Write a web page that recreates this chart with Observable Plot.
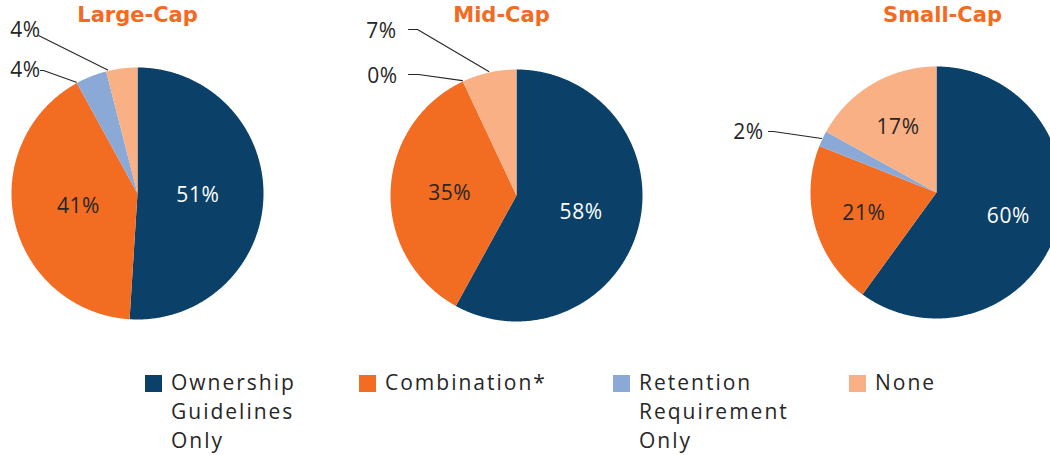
<!DOCTYPE html>
<html><head><meta charset="utf-8">
<script src="https://cdn.jsdelivr.net/npm/d3@7"></script>
<script src="https://cdn.jsdelivr.net/npm/@observablehq/plot@0.6"></script>
<style>
html,body{margin:0;padding:0;background:#fff;overflow:hidden;width:1050px;height:455px;}
#chart svg{display:block;}
.legend{position:relative;height:87px;font-family:"Open Sans",Lato,sans-serif;font-size:21px;line-height:29px;color:#262626;letter-spacing:2px;}
.legend .item{position:absolute;top:0;}
.legend .sw{position:absolute;left:0;top:7px;width:17px;height:17px;}
.legend .tx{position:absolute;left:26px;top:0;white-space:nowrap;}
</style></head><body>
<div id="chart"></div>
<script>
// ---- data ----
const groups = ["Large-Cap", "Mid-Cap", "Small-Cap"];
const categories = ["Ownership Guidelines Only", "Combination*", "Retention Requirement Only", "None"];
const legendLines = [["Ownership", "Guidelines", "Only"], ["Combination*"], ["Retention", "Requirement", "Only"], ["None"]];
const largeCap = [51, 41, 4, 4];
const midCap = [58, 35, 0, 7];
const smallCap = [60, 21, 2, 17];
const series = [largeCap, midCap, smallCap];

// ---- layout / style ----
const W = 1050, H = 368, R = 126;
const colors = ["#0b4168", "#f26c22", "#8aa9d7", "#f9b084"];
const centers = [[137, 193], [516, 195], [936, 192]];
const titlePos = [[137, 15], [501, 15], [942, 15]];
const inLabelRadius = [0.48, 0.53, 0.6];
const legendLeft = [145, 359, 613, 849];
// outside labels: group, category, text pos, leader start, elbow length, anchor fraction within slice
const outside = [
  {g: 0, c: 3, tx: 25, ty: 30, lx: 38, ly: 35, elbow: 0, t: 0.06},
  {g: 0, c: 2, tx: 25, ty: 70, lx: 40, ly: 70, elbow: 3, t: 0.0},
  {g: 1, c: 3, tx: 381, ty: 31, lx: 408, ly: 29, elbow: 9, t: 0.5},
  {g: 1, c: 2, tx: 382, ty: 76, lx: 408, ly: 74, elbow: 10, t: 0.5},
  {g: 2, c: 2, tx: 748, ty: 132, lx: 768, ly: 131, elbow: 5, t: 0.5}
];

const slices = [], inLabels = [], outLabels = [], leaders = [];
series.forEach((vals, gi) => {
  const arcs = d3.pie().sort(null).value(d => d)(vals);
  const [cx, cy] = centers[gi];
  arcs.forEach((a, ci) => {
    const span = a.endAngle - a.startAngle;
    const o = outside.find(d => d.g === gi && d.c === ci);
    if (o) {
      const ang = a.startAngle + span * o.t;
      const id = "L" + gi + "-" + ci;
      outLabels.push({x: o.tx, y: o.ty, text: vals[ci] + "%"});
      leaders.push({id, x: o.lx, y: o.ly});
      if (o.elbow) leaders.push({id, x: o.lx + o.elbow, y: o.ly});
      leaders.push({id, x: cx + (R + 1) * Math.sin(ang), y: cy - (R + 1) * Math.cos(ang)});
    } else if (span > 0) {
      const mid = (a.startAngle + a.endAngle) / 2, r = R * inLabelRadius[gi];
      inLabels.push({x: cx + r * Math.sin(mid), y: cy - r * Math.cos(mid), text: vals[ci] + "%", fill: ci === 0 ? "#ffffff" : "#262626"});
    }
    if (span <= 0) return;
    const id = gi + "-" + ci;
    slices.push({id, x: cx, y: cy, color: colors[ci]});
    const n = Math.max(2, Math.ceil(span / (Math.PI / 360)));
    for (let k = 0; k <= n; k++) {
      const ang = a.startAngle + span * k / n;
      slices.push({id, x: cx + R * Math.sin(ang), y: cy - R * Math.cos(ang), color: colors[ci]});
    }
  });
});
const titles = groups.map((g, i) => ({x: titlePos[i][0], y: titlePos[i][1], text: g}));

const chart = Plot.plot({
  width: W, height: H, margin: 0,
  style: {fontFamily: "'Open Sans', Lato, sans-serif", background: "#fff", overflow: "hidden"},
  x: {domain: [0, W], range: [0, W], axis: null},
  y: {domain: [0, H], range: [0, H], axis: null},
  marks: [
    Plot.line(slices, {x: "x", y: "y", z: "id", fill: "color", stroke: "none", curve: "linear"}),
    Plot.line(leaders, {x: "x", y: "y", z: "id", stroke: "#262626", strokeWidth: 1.1}),
    Plot.text(inLabels, {x: "x", y: "y", text: "text", fill: "fill", fontSize: 21, fontWeight: 400}),
    Plot.text(outLabels, {x: "x", y: "y", text: "text", fill: "#262626", fontSize: 21, fontWeight: 400}),
    Plot.text(titles, {x: "x", y: "y", text: "text", fill: "#f26b21", fontSize: 21, fontWeight: 700, fontFamily: "'DejaVu Sans', sans-serif"})
  ]
});
const textGroups = chart.querySelectorAll('g[aria-label="text"]');
textGroups.forEach((g, i) => g.setAttribute("letter-spacing", i === textGroups.length - 1 ? "0" : "0.6"));
document.getElementById("chart").appendChild(chart);

const leg = document.createElement("div");
leg.className = "legend";
categories.forEach((c, i) => {
  const it = document.createElement("div");
  it.className = "item";
  it.style.left = legendLeft[i] + "px";
  it.title = c;
  const sw = document.createElement("div");
  sw.className = "sw";
  sw.style.background = colors[i];
  const tx = document.createElement("div");
  tx.className = "tx";
  tx.innerHTML = legendLines[i].join("<br>");
  it.appendChild(sw); it.appendChild(tx);
  leg.appendChild(it);
});
document.body.appendChild(leg);
</script>
</body></html>
